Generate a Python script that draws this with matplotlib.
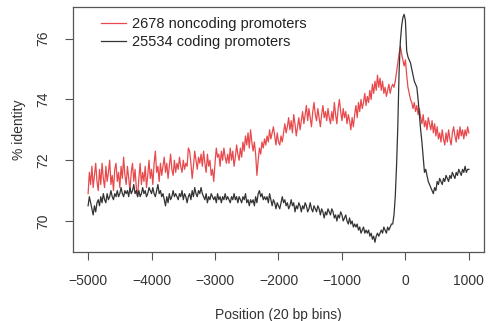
import numpy as np
import matplotlib
matplotlib.use("Agg")
import matplotlib.pyplot as plt

plt.rcParams['font.family'] = ['Liberation Sans', 'DejaVu Sans']

# bin positions relative to the TSS, 20 bp bins from -5000 to +1000
positions = np.arange(-5000, 1001, 20)

# mean % identity per bin, noncoding promoters
noncoding = [
    70.9, 71.6, 71.2, 71.8, 71.1, 71.5, 71.9, 71.3, 71.0, 71.7,
    71.2, 71.9, 71.4, 71.1, 71.8, 71.3, 71.6, 72.0, 71.2, 71.5,
    71.0, 71.7, 71.9, 71.3, 71.6, 71.1, 71.8, 71.4, 72.1, 71.5,
    71.2, 71.8, 71.4, 71.0, 71.6, 71.9, 71.3, 71.7, 71.1, 70.8,
    71.4, 71.9, 71.2, 71.6, 71.3, 71.8, 71.1, 71.5, 72.0, 71.4,
    71.7, 71.2, 71.9, 72.3, 71.6, 71.8, 71.3, 71.9, 71.5, 71.8,
    72.1, 71.6, 71.9, 71.4, 71.8, 72.2, 71.7, 71.5, 72.0, 71.6,
    71.9, 71.7, 72.1, 71.8, 71.6, 72.0, 71.7, 71.9, 71.8, 72.4,
    72.3, 71.9, 71.4, 71.8, 72.3, 72.0, 71.7, 72.1, 71.9, 72.2,
    71.8, 72.3, 71.9, 71.6, 72.2, 71.8, 72.0, 71.5, 71.7, 71.3,
    71.9, 72.4, 72.1, 72.2, 71.8, 72.3, 72.0, 72.4, 72.1, 71.9,
    72.2, 71.9, 72.4, 72.0, 72.3, 71.8, 72.1, 72.5, 72.2, 72.0,
    72.4, 72.1, 72.6, 72.3, 72.8, 72.5, 72.9, 72.4, 73.0, 72.6,
    72.3, 72.6, 72.2, 71.5, 72.0, 72.4, 72.2, 72.6, 72.4, 72.7,
    72.5, 72.8, 72.6, 73.0, 72.7, 72.9, 73.1, 72.8, 72.5, 72.9,
    72.6, 72.5, 72.8, 72.6, 72.9, 73.2, 72.9, 73.1, 73.4, 73.0,
    73.3, 72.9, 73.5, 73.2, 72.8, 73.1, 73.4, 73.0, 73.3, 73.6,
    73.2, 73.5, 73.8, 73.3, 73.7, 73.4, 73.1, 73.6, 73.9, 73.5,
    73.3, 73.7, 73.4, 73.1, 73.5, 73.8, 73.4, 73.6, 73.3, 73.7,
    73.4, 73.2, 73.6, 73.3, 73.9, 73.5, 73.2, 73.7, 74.0, 73.6,
    73.3, 73.7, 73.4, 73.6, 73.2, 73.5, 73.3, 73.0, 73.4, 73.1,
    73.5, 73.8, 73.4, 73.9, 73.6, 74.0, 73.7, 73.9, 74.2, 73.8,
    74.1, 73.9, 74.3, 74.0, 74.5, 74.2, 74.6, 74.3, 74.8, 74.4,
    74.7, 74.3, 74.6, 74.2, 74.4, 74.1, 74.3, 74.5, 74.2, 74.4,
    74.5, 74.4, 74.6, 74.9, 75.2, 75.5, 75.75, 75.5, 75.3, 75.1,
    75.3, 74.8, 74.4, 74.2, 74.0, 73.9, 73.7, 73.9, 73.6, 73.8,
    73.5, 73.7, 73.4, 73.2, 73.5, 73.1, 73.3, 73.0, 73.4, 73.2,
    73.0, 73.3, 72.9, 73.2, 72.8, 73.1, 72.7, 72.9, 72.6, 73.0,
    72.7, 72.5, 72.9, 72.6, 73.0, 72.7, 72.5, 72.9, 73.1, 72.8,
    72.6, 73.0, 72.7, 73.1, 72.8, 73.0, 72.7, 73.0, 72.8, 73.1,
    72.9,
]

# mean % identity per bin, coding promoters
coding = [
    70.5, 70.8, 70.6, 70.4, 70.2, 70.5, 70.3, 70.6, 70.7, 70.5,
    70.8, 70.6, 70.9, 70.7, 70.6, 70.9, 70.7, 70.8, 71.0, 70.8,
    70.7, 70.9, 70.8, 71.0, 70.8, 70.9, 71.1, 70.9, 70.8, 71.0,
    70.9, 71.0, 70.8, 71.1, 70.9, 71.0, 71.2, 70.9, 71.0, 70.8,
    71.0, 70.8, 70.9, 71.1, 70.9, 71.0, 70.8, 70.9, 71.1, 71.0,
    70.9, 71.1, 70.9, 70.8, 71.0, 71.2, 70.9, 71.0, 70.8, 70.9,
    70.7, 70.5, 70.8, 70.6, 70.9, 70.7, 70.8, 71.0, 70.8, 70.9,
    70.8, 70.7, 70.9, 70.8, 71.0, 70.7, 70.9, 70.8, 70.6, 70.8,
    70.9, 70.7, 71.0, 70.8, 71.1, 70.9, 70.8, 71.0, 70.9, 71.1,
    70.9, 70.8, 70.7, 70.9, 70.6, 70.8, 70.7, 70.9, 70.8, 70.7,
    70.8, 70.6, 70.9, 70.7, 70.8, 70.6, 70.8, 70.7, 70.9, 70.7,
    70.8, 70.7, 70.6, 70.8, 70.7, 70.9, 70.7, 70.8, 70.6, 70.8,
    70.7, 70.6, 70.8, 70.7, 70.9, 70.6, 70.7, 70.5, 70.7, 70.6,
    70.7, 70.5, 70.8, 70.6, 70.9, 71.0, 70.8, 70.9, 70.7, 70.8,
    70.7, 70.8, 70.6, 70.9, 70.7, 70.5, 70.7, 70.6, 70.4, 70.6,
    70.5, 70.4, 70.6, 70.8, 70.6, 70.7, 70.5, 70.6, 70.4, 70.5,
    70.7, 70.5, 70.6, 70.3, 70.5, 70.4, 70.6, 70.5, 70.3, 70.5,
    70.4, 70.6, 70.5, 70.3, 70.4, 70.6, 70.4, 70.3, 70.5, 70.4,
    70.3, 70.5, 70.4, 70.2, 70.4, 70.3, 70.1, 70.3, 70.2, 70.4,
    70.3, 70.2, 70.4, 70.3, 70.1, 70.2, 70.0, 70.2, 70.1, 70.3,
    70.2, 70.0, 70.1, 70.2, 70.0, 69.9, 70.1, 69.9, 70.0, 69.8,
    69.9, 69.8, 69.9, 69.7, 69.8, 69.6, 69.7, 69.8, 69.6, 69.7,
    69.6, 69.7, 69.5, 69.6, 69.4, 69.5, 69.3, 69.5, 69.6, 69.5,
    69.6, 69.7, 69.6, 69.8, 69.7, 69.6, 69.8, 69.7, 69.8, 69.9,
    69.9, 70.2, 70.8, 71.8, 73.1, 74.9, 75.9, 76.4, 76.7, 76.8,
    76.6, 75.6, 75.4, 75.3, 75.2, 75.0, 74.8, 74.6, 74.5, 74.4,
    74.0, 73.5, 73.0, 72.6, 72.1, 71.6, 71.7, 71.5, 71.3, 71.2,
    71.1, 71.0, 70.9, 71.1, 71.0, 71.3, 71.2, 71.4, 71.3, 71.2,
    71.4, 71.3, 71.5, 71.4, 71.3, 71.5, 71.4, 71.6, 71.5, 71.4,
    71.6, 71.5, 71.7, 71.6, 71.5, 71.7, 71.6, 71.8, 71.6, 71.7,
    71.7,
]

labels = ['2678 noncoding promoters', '25534 coding promoters']
xticks = [-5000, -4000, -3000, -2000, -1000, 0, 1000]
yticks = [70, 72, 74, 76]

fig = plt.figure(figsize=(4.89, 3.21), dpi=100)
ax = fig.add_axes([0.149, 0.215, 0.841, 0.763])

ax.plot(positions, noncoding, color='#e8494c', lw=0.9, label=labels[0])
ax.plot(positions, coding, color='#333333', lw=0.9, label=labels[1])

ax.set_xlim(-5240, 1240)
ax.set_ylim(68.98, 77.04)
ax.set_xticks(xticks)
ax.set_xticklabels([str(t).replace('-', '\u2212') for t in xticks])
ax.set_yticks(yticks)
ax.set_yticklabels([str(t) for t in yticks], rotation=90, va='center')
ax.tick_params(direction='out', length=6, width=0.8, color='#555555',
               labelsize=10, labelcolor='#333333')
ax.tick_params(axis='x', pad=10)
ax.tick_params(axis='y', pad=10)

for s in ax.spines.values():
    s.set_color('#555555')
    s.set_linewidth(0.9)

ax.set_xlabel('Position (20 bp bins)', fontsize=10, color='#333333', labelpad=14)
ax.set_ylabel('% identity', fontsize=10, color='#333333', labelpad=8)

ax.legend(loc='upper left', bbox_to_anchor=(0.068, 0.96), frameon=False,
          fontsize=10.5, handlelength=1.7, handletextpad=0.45,
          labelspacing=0.3, borderpad=0, borderaxespad=0,
          labelcolor='#222222')

fig.savefig('out.png', dpi=100, facecolor='white')
